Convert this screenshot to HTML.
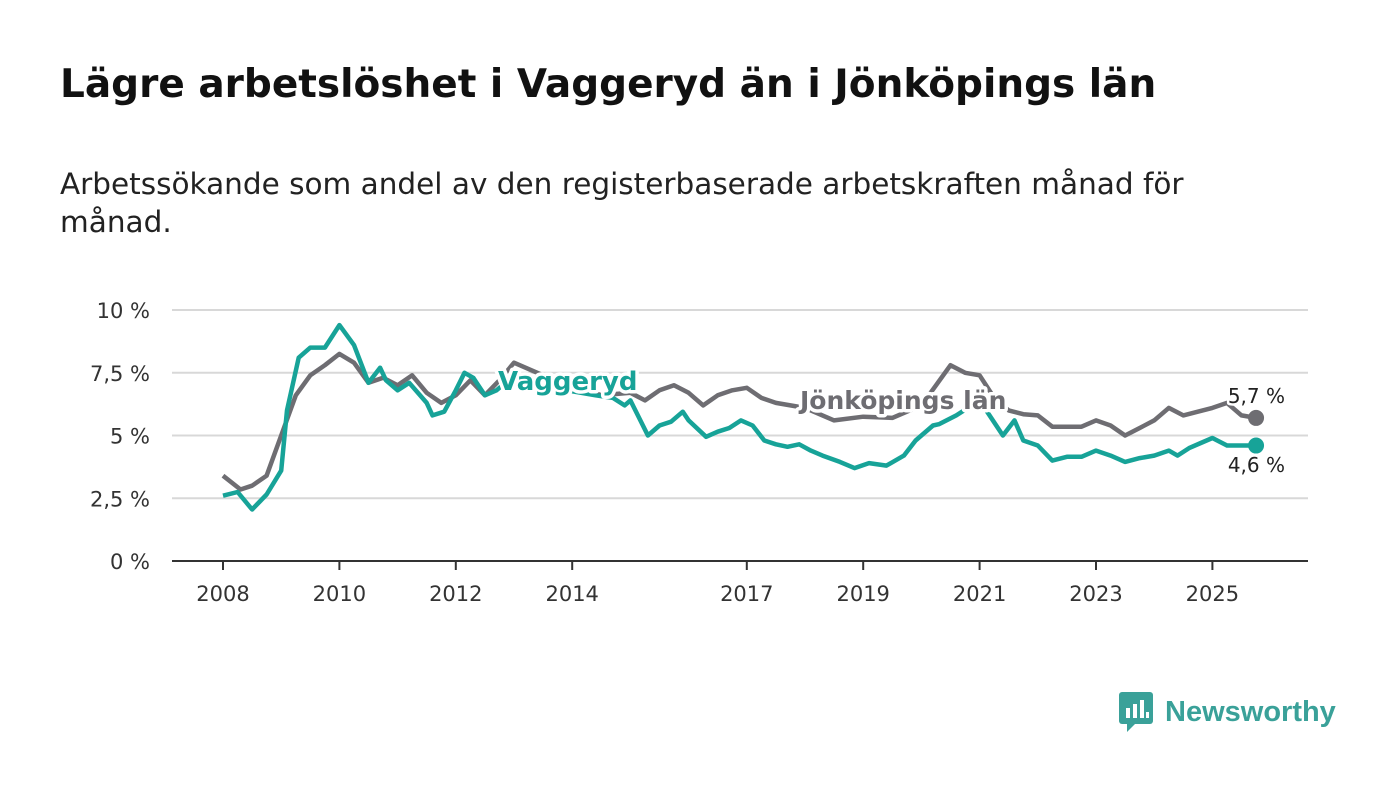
<!DOCTYPE html>
<html><head><meta charset="utf-8">
<style>
body{margin:0;background:#fff;font-family:"DejaVu Sans","Liberation Sans",sans-serif;}
#wrap{position:relative;width:1400px;height:794px;overflow:hidden;}
h1{position:absolute;left:60px;top:62px;margin:0;font-size:39px;font-weight:bold;color:#111;white-space:nowrap;}
.sub{position:absolute;left:60px;top:165px;margin:0;font-size:29.5px;line-height:38px;color:#222;width:1200px;}
svg{position:absolute;left:0;top:0;}
</style></head><body>
<div id="wrap">
<h1>Lägre arbetslöshet i Vaggeryd än i Jönköpings län</h1>
<p class="sub">Arbetssökande som andel av den registerbaserade arbetskraften månad för<br>månad.</p>
<svg id="chart" width="1400" height="794"></svg>
<div style="position:absolute;left:1119px;top:690px;display:flex;align-items:center;">
<svg width="36" height="44" style="position:static"><rect x="0" y="2" width="34" height="32" rx="3" fill="#3aa199"/><path d="M8 34 L8 42 L16 34Z" fill="#3aa199"/><rect x="7" y="18" width="4" height="10" fill="#fff"/><rect x="14" y="14" width="4" height="14" fill="#fff"/><rect x="21" y="10" width="4" height="18" fill="#fff"/><rect x="27" y="22" width="3" height="6" fill="#fff"/></svg>
<span style="font-family:'Liberation Sans',sans-serif;font-size:29px;font-weight:bold;color:#3aa199;margin-left:10px;">Newsworthy</span>
</div>
</div>
<script>
const ticksY=[0,2.5,5,7.5,10];
const tickLabelsY=["0 %","2,5 %","5 %","7,5 %","10 %"];
const ticksX=[2008,2010,2012,2014,2017,2019,2021,2023,2025];
const jkpT=[2008,2008.3,2008.5,2008.75,2009,2009.25,2009.5,2009.75,2010,2010.25,2010.5,2010.75,2011,2011.25,2011.5,2011.75,2012,2012.25,2012.5,2012.75,2013,2013.5,2014,2014.5,2015,2015.25,2015.5,2015.75,2016,2016.25,2016.5,2016.75,2017,2017.25,2017.5,2018,2018.5,2019,2019.5,2020,2020.25,2020.5,2020.75,2021,2021.25,2021.5,2021.75,2022,2022.25,2022.5,2022.75,2023,2023.25,2023.5,2023.75,2024,2024.25,2024.5,2024.75,2025,2025.25,2025.5,2025.75];
const jkpV=[3.4,2.85,3.0,3.4,5.0,6.6,7.4,7.8,8.25,7.9,7.1,7.3,7.0,7.4,6.7,6.3,6.6,7.2,6.6,7.2,7.9,7.4,7.0,6.6,6.7,6.4,6.8,7.0,6.7,6.2,6.6,6.8,6.9,6.5,6.3,6.1,5.6,5.75,5.7,6.2,7.0,7.8,7.5,7.4,6.5,6.0,5.85,5.8,5.35,5.35,5.35,5.6,5.4,5.0,5.3,5.6,6.1,5.8,5.95,6.1,6.3,5.8,5.7];
const vagT=[2008,2008.25,2008.5,2008.75,2009,2009.1,2009.3,2009.5,2009.75,2010,2010.25,2010.5,2010.7,2010.8,2011,2011.2,2011.5,2011.6,2011.8,2012,2012.15,2012.3,2012.5,2012.7,2012.85,2013.3,2013.9,2014.4,2014.7,2014.9,2015,2015.3,2015.5,2015.7,2015.9,2016,2016.3,2016.5,2016.7,2016.9,2017.1,2017.3,2017.5,2017.7,2017.9,2018.1,2018.3,2018.6,2018.85,2019.1,2019.4,2019.7,2019.9,2020.2,2020.3,2020.6,2021,2021.2,2021.4,2021.6,2021.75,2022,2022.25,2022.5,2022.75,2023,2023.25,2023.5,2023.75,2024,2024.25,2024.4,2024.6,2024.8,2025,2025.25,2025.5,2025.75];
const vagV=[2.6,2.75,2.05,2.65,3.6,6.0,8.1,8.5,8.5,9.4,8.6,7.1,7.7,7.2,6.8,7.1,6.3,5.8,5.95,6.8,7.5,7.3,6.6,6.8,7.1,7.0,6.8,6.6,6.5,6.2,6.4,5.0,5.4,5.55,5.95,5.6,4.95,5.15,5.3,5.6,5.4,4.8,4.65,4.55,4.65,4.4,4.2,3.95,3.7,3.9,3.8,4.2,4.8,5.4,5.45,5.8,6.4,5.7,5.0,5.6,4.8,4.6,4.0,4.15,4.15,4.4,4.2,3.95,4.1,4.2,4.4,4.2,4.5,4.7,4.9,4.6,4.6,4.6];
const NS="http://www.w3.org/2000/svg";
const svg=document.getElementById('chart');
const X=t=>223+(t-2008)*58.2;
const Y=v=>561-v*25.1;
function mk(tag,attrs){const e=document.createElementNS(NS,tag);for(const k in attrs)e.setAttribute(k,attrs[k]);svg.appendChild(e);return e;}
ticksY.forEach((v,i)=>{
  if(v>0){const g=mk('line',{x1:172,x2:1308,y1:Y(v),y2:Y(v),stroke:'#d8d8d8','stroke-width':2});
  
  }
  const t=mk('text',{x:150,y:Y(v)+8,'text-anchor':'end','font-size':21,fill:'#333'});
  t.textContent=tickLabelsY[i];
  
  
});
const ax=mk('line',{x1:172,x2:1308,y1:Y(0),y2:Y(0),stroke:'#333','stroke-width':2});


ticksX.forEach(yr=>{
  const l=mk('line',{x1:X(yr),x2:X(yr),y1:Y(0),y2:Y(0)+9,stroke:'#333','stroke-width':2});
  
  
  const t=mk('text',{x:X(yr),y:601,'text-anchor':'middle','font-size':21,fill:'#333'});
  t.textContent=String(yr);
  
  
});
function series(T,V,color,name){
  const d=T.map((t,i)=>(i?'L':'M')+X(t).toFixed(1)+' '+Y(V[i]).toFixed(1)).join(' ');
  const p=mk('path',{d:d,fill:'none',stroke:color,'stroke-width':4.5,'stroke-linejoin':'round'});
  
  
  const c=mk('circle',{cx:X(T[T.length-1]),cy:Y(V[V.length-1]),r:8,fill:color});
  
  
}
series(jkpT,jkpV,'#6e6d72','jonkoping');
series(vagT,vagV,'#17a398','vaggeryd');
function lbl(x,y,txt,color,name,size,bold,anchor){
  const t=mk('text',{x:x,y:y,'font-size':size,'font-weight':bold?'bold':'normal',fill:color,stroke:'#fff','stroke-width':bold?7:5,'paint-order':'stroke','stroke-linejoin':'round','text-anchor':anchor||'start'});
  t.textContent=txt;
  
  
}
lbl(498,390,'Vaggeryd','#17a398','vaggeryd-label',26,true);
lbl(800,409,'Jönköpings län','#6e6d72','jonkoping-label',25,true);
lbl(1285,403,'5,7 %','#222','jonkoping-end-value',20,false,'end');
lbl(1285,472,'4,6 %','#222','vaggeryd-end-value',20,false,'end');
</script>
</body></html>
